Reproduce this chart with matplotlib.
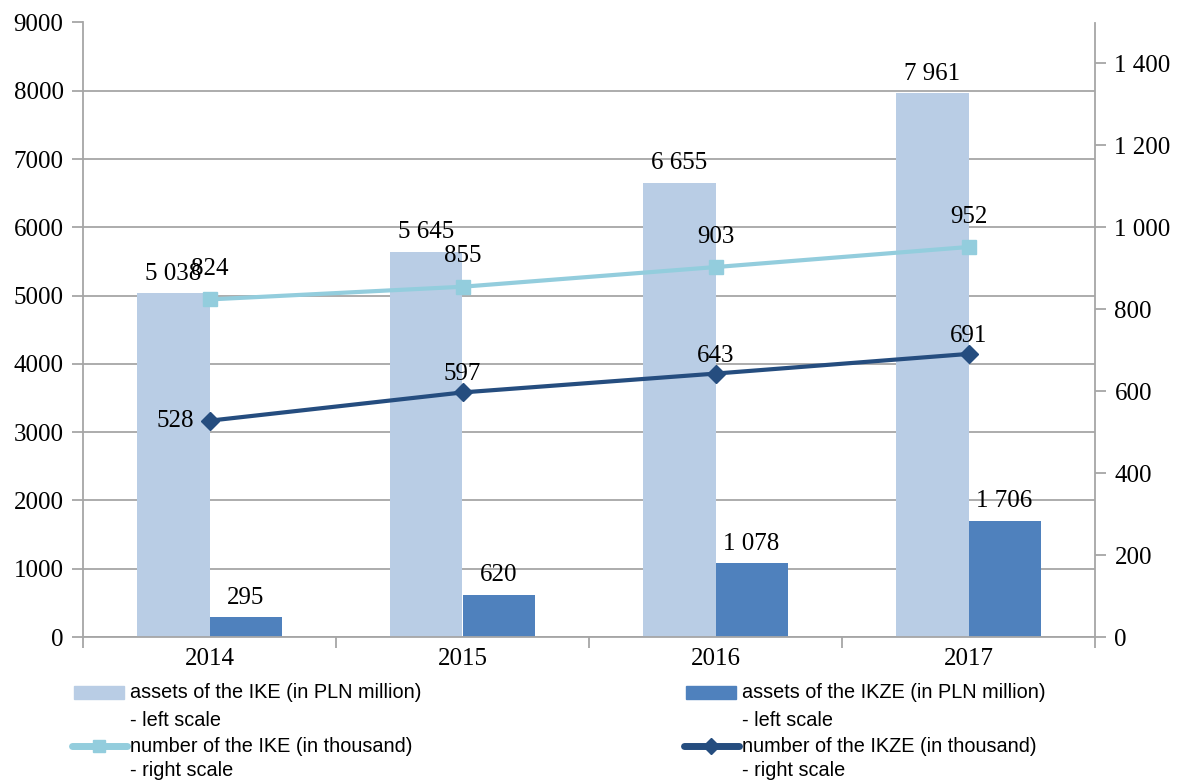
import matplotlib.pyplot as plt
import numpy as np
from matplotlib.patches import Rectangle
from matplotlib.lines import Line2D
from matplotlib.ticker import FuncFormatter

# data
years = ["2014", "2015", "2016", "2017"]
ike_assets = [5038, 5645, 6655, 7961]      # PLN million, left scale
ikze_assets = [295, 620, 1078, 1706]       # PLN million, left scale
ike_number = [824, 855, 903, 952]          # thousand, right scale
ikze_number = [528, 597, 643, 691]         # thousand, right scale

legend_labels = [
    ("assets of the IKE (in PLN million)", "- left scale"),
    ("number of the IKE (in thousand)", "- right scale"),
    ("assets of the IKZE (in PLN million)", "- left scale"),
    ("number of the IKZE (in thousand)", "- right scale"),
]

c_ike_bar = "#B9CDE5"
c_ikze_bar = "#4F81BD"
c_ike_line = "#93CDDD"
c_ikze_line = "#254D7F"
c_grid = "#A6A6A6"

W, H = 1177, 780
serif = "Liberation Serif"
sans = "Liberation Sans"


def sp(v):
    return f"{int(round(v)):,}".replace(",", " ")


fig = plt.figure(figsize=(W / 100, H / 100), dpi=100)
ax = fig.add_axes([83 / W, 1 - 637 / H, (1095 - 83) / W, (637 - 22.5) / H])
ax2 = ax.twinx()

x = np.arange(len(years))
bw = 0.285

# bars
ax.set_axisbelow(True)
b1 = ax.bar(x - bw / 2, ike_assets, bw, color=c_ike_bar, zorder=2)
b2 = ax.bar(x + bw / 2, ikze_assets, bw, color=c_ikze_bar, zorder=2)

for rect, v in zip(b1, ike_assets):
    ax.annotate(sp(v), (rect.get_x() + rect.get_width() / 2, v), xytext=(0, 6),
                textcoords="offset points", ha="center", va="bottom",
                fontsize=18, family=serif, zorder=5)
for rect, v in zip(b2, ikze_assets):
    ax.annotate(sp(v), (rect.get_x() + rect.get_width() / 2, v), xytext=(0, 6),
                textcoords="offset points", ha="center", va="bottom",
                fontsize=18, family=serif, zorder=5)

ax.set_ylim(0, 9000)
ax.set_yticks(np.arange(0, 9001, 1000))
ax.set_xlim(-0.5, len(years) - 0.5)
ax.yaxis.grid(True, color=c_grid, linewidth=1.3)
ax.set_xticks(x)
ax.set_xticklabels(years, family=serif, fontsize=18)
ax.set_xticks(np.arange(-0.5, len(years), 1), minor=True)
ax.tick_params(axis="x", which="major", length=0, pad=8)
ax.tick_params(axis="x", which="minor", length=8, color=c_grid, width=1.3)
ax.tick_params(axis="y", length=8, color=c_grid, width=1.3, labelsize=18, pad=6)
for lab in ax.get_yticklabels():
    lab.set_family(serif)
for s in ["top", "right"]:
    ax.spines[s].set_visible(False)
for s in ["left", "bottom"]:
    ax.spines[s].set_color(c_grid)
    ax.spines[s].set_linewidth(1.3)

# lines on the right scale
ax2.plot(x, ike_number, color=c_ike_line, lw=3, marker="s", ms=10, zorder=3)
ax2.plot(x, ikze_number, color=c_ikze_line, lw=3, marker="D", ms=9, zorder=3)
for i, v in enumerate(ike_number):
    ax2.annotate(sp(v), (x[i], v), xytext=(0, 14), textcoords="offset points",
                 ha="center", va="bottom", fontsize=18, family=serif)
for i, v in enumerate(ikze_number):
    if i == 0:
        ax2.annotate(sp(v), (x[i], v), xytext=(-11, 0), textcoords="offset points",
                     ha="right", va="center", fontsize=18, family=serif)
    else:
        ax2.annotate(sp(v), (x[i], v), xytext=(0, 5), textcoords="offset points",
                     ha="center", va="bottom", fontsize=18, family=serif)

ax2.set_ylim(0, 1500)
ax2.set_yticks(np.arange(0, 1401, 200))
ax2.yaxis.set_major_formatter(FuncFormatter(lambda v, p: sp(v)))
ax2.tick_params(axis="y", length=8, color=c_grid, width=1.3, labelsize=18, pad=6)
for lab in ax2.get_yticklabels():
    lab.set_family(serif)
for s in ["top", "left", "bottom"]:
    ax2.spines[s].set_visible(False)
ax2.spines["right"].set_color(c_grid)
ax2.spines["right"].set_linewidth(1.3)


# legend drawn by hand to keep the two-line labels next to the handles
def fx(px):
    return px / W


def fy(py):
    return 1 - py / H


cols = [(74, 124, 130), (686, 736, 742)]
rows = [(692, 720), (746, 770)]
kinds = [("bar", c_ike_bar, None), ("line", c_ike_line, "s"),
         ("bar", c_ikze_bar, None), ("line", c_ikze_line, "D")]
for k, (kind, col, mk) in enumerate(kinds):
    cx0, cx1, tx = cols[k // 2]
    y1, y2 = rows[k % 2]
    if kind == "bar":
        fig.add_artist(Rectangle((fx(cx0), fy(y1 + 7)), fx(cx1 - cx0), (13 / H),
                                 color=col, transform=fig.transFigure))
    else:
        fig.add_artist(Line2D([fx(cx0 - 2), fx(cx1 + 3)], [fy(y1), fy(y1)], color=col,
                              lw=5, solid_capstyle="round", transform=fig.transFigure))
        fig.add_artist(Line2D([fx((cx0 + cx1) / 2)], [fy(y1)], color=col, marker=mk,
                              ms=8, transform=fig.transFigure))
    fig.text(fx(tx), fy(y1), legend_labels[k][0], family=sans, fontsize=14.3,
             va="center", ha="left")
    fig.text(fx(tx), fy(y2), legend_labels[k][1], family=sans, fontsize=14.3,
             va="center", ha="left")

fig.savefig("out.png", dpi=100)
